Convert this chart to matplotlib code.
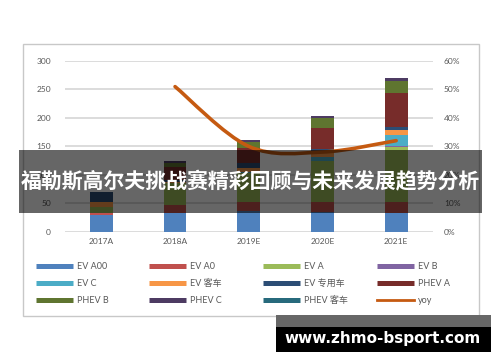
import matplotlib
matplotlib.use("Agg")
import matplotlib.pyplot as plt
from matplotlib.patches import Rectangle, PathPatch
from matplotlib.path import Path
from matplotlib.lines import Line2D
from matplotlib.ticker import FuncFormatter
import numpy as np

plt.rcParams['font.family'] = ['Lato', 'Noto Sans CJK SC', 'DejaVu Sans']

years = ['2017A', '2018A', '2019E', '2020E', '2021E']
series_names = ['EV A00', 'EV A0', 'EV A', 'EV B', 'EV C', 'EV 客车', 'EV 专用车',
                'PHEV A', 'PHEV B', 'PHEV C', 'PHEV 客车']
ev_a00 = [29, 33, 36, 35, 32]
ev_a0 = [4, 14, 16, 17, 20]
ev_a = [10, 38, 51, 72, 96]
ev_b = [0, 0, 0, 0, 3]
ev_c = [0, 0, 2, 7, 19]
ev_bus = [9, 2, 7, 8, 9]
ev_special = [18, 3, 9, 6, 5]
phev_a = [0, 24, 26, 37, 60]
phev_b = [0, 6, 11, 17, 20]
phev_c = [0, 4, 3, 4, 6]
phev_bus = [0, 0, 0, 0, 0]
yoy = [None, 0.51, 0.30, 0.28, 0.32]

series = [ev_a00, ev_a0, ev_a, ev_b, ev_c, ev_bus, ev_special, phev_a, phev_b, phev_c, phev_bus]
colors = ['#4F81BD', '#C0504D', '#9BBB59', '#8064A2', '#4BACC6', '#F79646', '#2C4D75',
          '#772C2A', '#5F7530', '#4D3B62', '#276A7C']
line_color = '#C55A11'
txt_color = '#595959'

W, H = 500, 362
fig = plt.figure(figsize=(5, 3.62), dpi=100)

def fx(px):
    return px / W

def fy(py):
    return 1 - py / H

ax = fig.add_axes([fx(64.5), fy(231.7), fx(433) - fx(64.5), fy(61) - fy(231.7)])
x = np.arange(len(years))
bottom = np.zeros(len(years))
for vals, c in zip(series, colors):
    ax.bar(x, vals, width=0.31, bottom=bottom, color=c, zorder=3, linewidth=0)
    bottom += np.array(vals, dtype=float)

ax.set_xlim(-0.5, len(years) - 0.5)
ax.set_ylim(0, 300)
ax.set_yticks(range(0, 301, 50))
ax.set_xticks(x)
ax.set_xticklabels(years)
ax.yaxis.grid(True, color='#D9D9D9', lw=1.3, zorder=0)
ax.set_axisbelow(True)
for s in ax.spines.values():
    s.set_visible(False)
ax.tick_params(axis='y', length=0, pad=9.7, labelsize=6, labelcolor=txt_color)
ax.tick_params(axis='x', length=0, pad=4.5, labelsize=6, labelcolor=txt_color)

ax2 = ax.twinx()
ax2.set_ylim(0, 0.6)
ax2.set_yticks(np.arange(0, 0.61, 0.1))
ax2.yaxis.set_major_formatter(FuncFormatter(lambda v, p: f"{v*100:.0f}%"))
for s in ax2.spines.values():
    s.set_visible(False)
ax2.tick_params(axis='y', length=0, pad=7.9, labelsize=6, labelcolor=txt_color)

# smoothed yoy line (Catmull-Rom style bezier like Excel smoothing)
pts = [(xi, v) for xi, v in zip(x, yoy) if v is not None]
P = [pts[0]] + pts + [pts[-1]]
verts = [pts[0]]
codes = [Path.MOVETO]
for i in range(1, len(P) - 2):
    p0, p1, p2, p3 = np.array(P[i - 1]), np.array(P[i]), np.array(P[i + 1]), np.array(P[i + 2])
    c1 = p1 + (p2 - p0) / 6
    c2 = p2 - (p3 - p1) / 6
    verts += [tuple(c1), tuple(c2), tuple(p2)]
    codes += [Path.CURVE4] * 3
ax2.add_patch(PathPatch(Path(verts, codes), fill=False, edgecolor=line_color, lw=2.6,
                        capstyle='round', zorder=5))

# legend: 4 columns, row-major order
all_names = series_names + ['yoy']
all_handles = [Line2D([], [], color=c, lw=3.6, solid_capstyle='butt') for c in colors]
all_handles.append(Line2D([], [], color=line_color, lw=2.0))
col_x = [36, 149, 263, 377]
for ci in range(4):
    idx = [r * 4 + ci for r in range(3)]
    lg = fig.legend([all_handles[i] for i in idx], [all_names[i] for i in idx],
                    loc='center left', bbox_to_anchor=(fx(col_x[ci]), fy(283.7)),
                    frameon=False, fontsize=6.5, handlelength=4.1, handletextpad=0.45,
                    labelspacing=0.9, borderpad=0, borderaxespad=0)
    for t in lg.get_texts():
        t.set_color(txt_color)

# chart frame
fig.add_artist(Rectangle((fx(23), fy(316)), fx(479) - fx(23), fy(44) - fy(316),
                         transform=fig.transFigure, fill=False, edgecolor='#C8C8C8', lw=1.0, zorder=1))

# banner overlay
fig.add_artist(Rectangle((fx(19), fy(212.7)), fx(482) - fx(19), fy(150) - fy(212.7),
                         transform=fig.transFigure, facecolor='black', alpha=0.6, lw=0, zorder=10))
fig.text(fx(250), fy(182), '福勒斯高尔夫挑战赛精彩回顾与未来发展趋势分析', color='white',
         fontsize=15, fontweight='bold', ha='center', va='center',
         family=['Noto Sans CJK SC', 'DejaVu Sans'], zorder=11)

# watermark box
fig.add_artist(Rectangle((fx(276), fy(327)), fx(491) - fx(276), fy(315) - fy(327),
                         transform=fig.transFigure, facecolor='#676767', lw=0, zorder=10))
fig.add_artist(Rectangle((fx(276), fy(352)), fx(491) - fx(276), fy(327) - fy(352),
                         transform=fig.transFigure, facecolor='black', lw=0, zorder=10))
fig.text(fx(383), fy(338), 'www.zhmo-bsport.com', color='white', fontsize=11, fontweight='bold',
         ha='center', va='center', family=['DejaVu Sans'], zorder=11)

fig.savefig('out.png', dpi=100, facecolor='white')
